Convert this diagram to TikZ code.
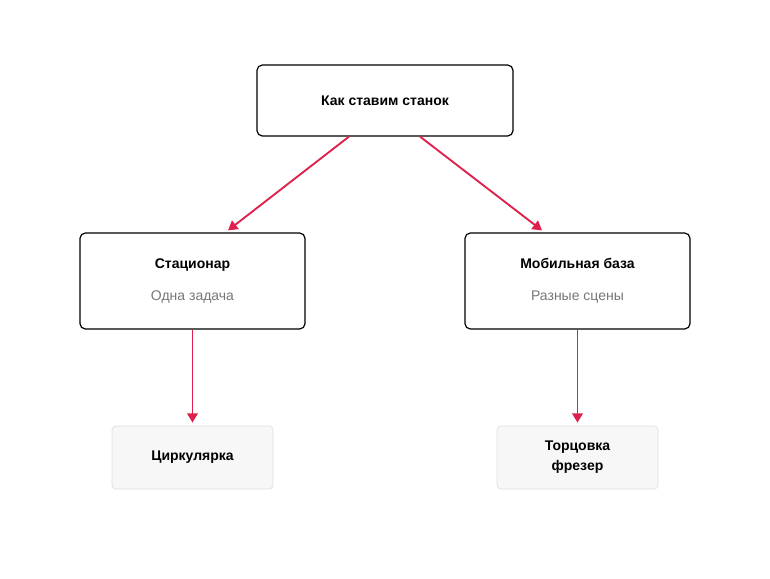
\documentclass[tikz,border=0pt]{standalone}
\usepackage{fontspec}
\setmainfont{Liberation Sans}
\usetikzlibrary{calc,arrows.meta}
\definecolor{acc}{HTML}{E0204C}
\definecolor{sub}{HTML}{777777}
\begin{document}
\begin{tikzpicture}[x=0.75pt,y=-0.75pt,
  box/.style={draw=black,line width=0.9pt,rounded corners=4pt,align=center,inner sep=0pt,font=\bfseries\fontsize{10.5}{13}\selectfont},
  leaf/.style={draw=black!12,fill=black!3,line width=0.6pt,rounded corners=3pt,align=center,inner sep=0pt,minimum width=161*0.75pt,minimum height=63*0.75pt,font=\bfseries\fontsize{10.5}{15}\selectfont},
  arr/.style={draw=acc,line width=1.4pt,-{Triangle[length=7pt,width=8pt]}}]
\useasboundingbox (0,0) rectangle (770,578);
\fill[white] (0,0) rectangle (770,578);
\node[box,minimum width=256*0.75pt,minimum height=71*0.75pt] (top) at (385,100.5) {Как ставим станок};
\node[box,minimum width=225*0.75pt,minimum height=96*0.75pt] (st) at (192.5,281) {Стационар\\[11pt]{\mdseries\color{sub}Одна задача}};
\node[box,minimum width=225*0.75pt,minimum height=96*0.75pt] (mb) at (577.5,281) {Мобильная база\\[11pt]{\mdseries\color{sub}Разные сцены}};
\node[leaf] (c1) at (192.5,457.5) {Циркулярка};
\node[leaf] (c2) at (577.5,457.5) {Торцовка\\фрезер};
\draw[arr] ($(top.south)+(-36,0)$) -- ($(st.north)+(35.5,-2)$);
\draw[arr] ($(top.south)+(35,0)$) -- ($(mb.north)+(-35.5,-2)$);
\draw[arr] (st.south) -- ($(c1.north)+(0,-3)$);
\draw[arr] (mb.south) -- ($(c2.north)+(0,-3)$);
\end{tikzpicture}
\end{document}
